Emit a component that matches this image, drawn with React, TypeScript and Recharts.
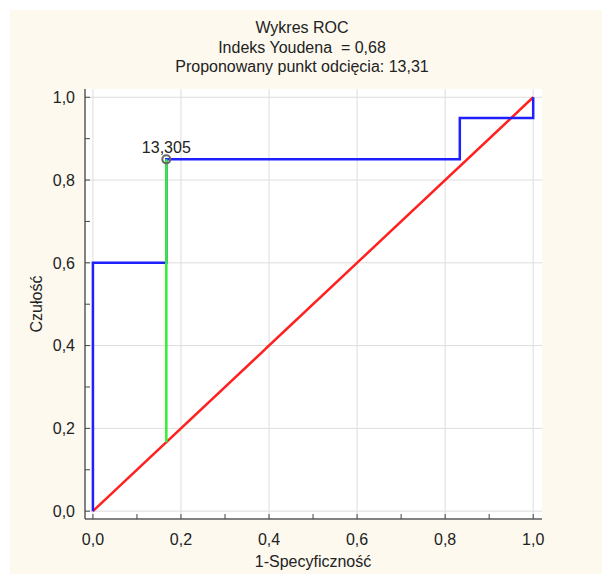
import React from 'react';
import { ComposedChart, Line, Scatter, XAxis, YAxis, ReferenceLine, LabelList } from 'recharts';

// ROC curve points (1-specificity, sensitivity)
const rocPoints = [
    { x: 0, y: 0 },
    { x: 0, y: 0.6 },
    { x: 0.1667, y: 0.85 },
    { x: 0.8333, y: 0.95 },
    { x: 1, y: 1 },
];

const diagonal = [
    { x: 0, y: 0 },
    { x: 1, y: 1 },
];

// Youden index segment at the cut-off
const youdenSegment = [
    { x: 0.1667, y: 0.1667 },
    { x: 0.1667, y: 0.85 },
];

const cutoff = [{ x: 0.1667, y: 0.85, label: '13,305' }];

const majorTicks = [0, 0.2, 0.4, 0.6, 0.8, 1];
const allTicks = [0, 0.1, 0.2, 0.3, 0.4, 0.5, 0.6, 0.7, 0.8, 0.9, 1];

const titleLines = ['Wykres ROC', 'Indeks Youdena \u00a0= 0,68', 'Proponowany punkt odcięcia: 13,31'];

const fmt = (v: number) => (Math.round(v * 10) % 2 === 0 ? v.toFixed(1).replace('.', ',') : '');

const font = '"Liberation Sans", Arial, sans-serif';
const frame = { stroke: '#5a5a5a', strokeWidth: 1.5 };
const tickLine = { stroke: '#444' };

const App = () => {
    return (
        <div style={{ position: 'fixed', left: 10, top: 10, width: 592, height: 564, background: '#fdf9ef', fontFamily: font }}>
            <ComposedChart width={592} height={564} margin={{ top: 79, right: 60, bottom: 0, left: 0 }}>
                <rect x={75} y={79} width={457} height={430} fill="#ffffff" />
                {majorTicks.map((t) => (
                    <ReferenceLine key={'gx' + t} x={t} stroke="#dddddd" strokeWidth={1} />
                ))}
                {majorTicks.map((t) => (
                    <ReferenceLine key={'gy' + t} y={t} stroke="#dddddd" strokeWidth={1} />
                ))}
                <XAxis type="number" dataKey="x" domain={[-0.018, 1.02]} allowDataOverflow ticks={allTicks}
                    tickFormatter={fmt} interval={0} height={55} tickSize={-5} tickMargin={20}
                    axisLine={frame} tickLine={tickLine} tick={{ fill: '#222', fontSize: 16, fontFamily: font }} />
                <YAxis type="number" dataKey="y" domain={[-0.019, 1.02]} allowDataOverflow ticks={allTicks}
                    tickFormatter={fmt} interval={0} width={75} tickSize={-5} tickMargin={15}
                    axisLine={frame} tickLine={tickLine} tick={{ fill: '#222', fontSize: 16, fontFamily: font }} />
                <XAxis xAxisId="top" orientation="top" type="number" dataKey="x" domain={[-0.018, 1.02]} allowDataOverflow
                    ticks={allTicks} interval={0} height={0} tickSize={-5} tick={false} axisLine={frame} tickLine={tickLine} />
                <YAxis yAxisId="right" orientation="right" type="number" dataKey="y" domain={[-0.019, 1.02]} allowDataOverflow
                    ticks={allTicks} interval={0} width={0} tickSize={-5} tick={false} axisLine={frame} tickLine={tickLine} />
                <Line data={diagonal} dataKey="y" type="linear" stroke="#ff2020" strokeWidth={2.5} dot={false} isAnimationActive={false} />
                <Line data={rocPoints} dataKey="y" type="stepAfter" stroke="#1f1fff" strokeWidth={2.5} dot={false} isAnimationActive={false} />
                <Line data={youdenSegment} dataKey="y" type="linear" stroke="#33ee33" strokeWidth={2.5} dot={false} isAnimationActive={false} />
                <Scatter data={cutoff} dataKey="y" isAnimationActive={false}
                    shape={(p: any) => <circle cx={p.cx} cy={p.cy} r={4} fill="none" stroke="#666" strokeWidth={2} />}>
                    <LabelList dataKey="label" position="top" offset={2} fill="#222" fontSize={16} fontFamily={font} />
                </Scatter>
                {titleLines.map((t, i) => (
                    <text key={t} x={292} y={23 + i * 19.5} textAnchor="middle" fill="#222" fontSize={16} fontFamily={font}>
                        {t}
                    </text>
                ))}
                <text x={303} y={557} textAnchor="middle" fill="#222" fontSize={16} fontFamily={font}>
                    1-Specyficzność
                </text>
                <text x={26} y={294} transform="rotate(-90 26 294)" textAnchor="middle" dominantBaseline="central" fill="#222" fontSize={16} fontFamily={font}>
                    Czułość
                </text>
            </ComposedChart>
        </div>
    );
};

export default App;
